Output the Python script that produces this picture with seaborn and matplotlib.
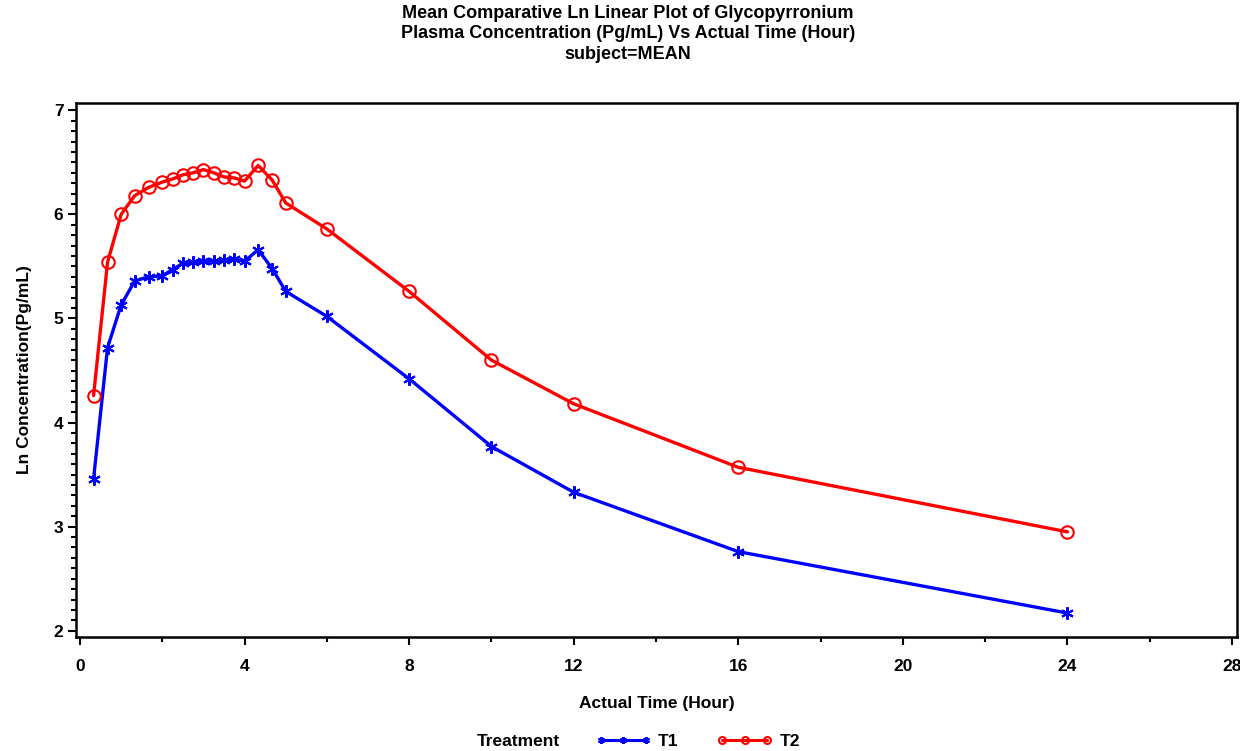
import matplotlib
matplotlib.use('Agg')
import matplotlib.pyplot as plt
import seaborn as sns
import pandas as pd
from matplotlib.lines import Line2D
from matplotlib.ticker import MultipleLocator

# data
time_h = [0.33, 0.67, 1, 1.33, 1.67, 2, 2.25, 2.5, 2.75, 3, 3.25, 3.5, 3.75, 4,
          4.33, 4.67, 5, 6, 8, 10, 12, 16, 24]
ln_t1 = [3.46, 4.72, 5.13, 5.36, 5.40, 5.41, 5.47, 5.53, 5.54, 5.55, 5.55, 5.56, 5.57, 5.55,
         5.66, 5.48, 5.26, 5.02, 4.42, 3.77, 3.33, 2.76, 2.17]
ln_t2 = [4.26, 5.54, 6.00, 6.18, 6.26, 6.31, 6.34, 6.38, 6.40, 6.43, 6.40, 6.36, 6.35, 6.32,
         6.47, 6.33, 6.11, 5.86, 5.26, 4.60, 4.18, 3.57, 2.95]
treatments = ['T1', 'T2']
colors = {'T1': '#0000ff', 'T2': '#ff0000'}
markers = {'T1': (6, 2, 0), 'T2': 'o'}

df = pd.concat([
    pd.DataFrame({'time': time_h, 'conc': ln_t1, 'Treatment': 'T1'}),
    pd.DataFrame({'time': time_h, 'conc': ln_t2, 'Treatment': 'T2'}),
])

sns.set_style('white')
plt.rcParams['font.family'] = ['Liberation Sans', 'DejaVu Sans']
plt.rcParams['text.color'] = 'black'
plt.rcParams['axes.labelcolor'] = 'black'
plt.rcParams['xtick.color'] = 'black'
plt.rcParams['ytick.color'] = 'black'

fig = plt.figure(figsize=(12.4, 7.51), dpi=100)
ax = fig.add_axes([76 / 1240, 1 - 637 / 751, (1237 - 76) / 1240, (637 - 103) / 751])

for tr in treatments:
    sub = df[df['Treatment'] == tr]
    sns.lineplot(data=sub, x='time', y='conc', ax=ax, color=colors[tr],
                 marker=markers[tr], markersize=9, mfc='none', mec=colors[tr],
                 mew=1.5, linewidth=2.4, legend=False)

ax.set_xlim(-0.097, 28.12)
ax.set_ylim(1.94, 7.07)
ax.xaxis.set_major_locator(MultipleLocator(4))
ax.xaxis.set_minor_locator(MultipleLocator(2))
ax.yaxis.set_major_locator(MultipleLocator(1))
ax.yaxis.set_minor_locator(MultipleLocator(0.1))
ax.tick_params(which='major', direction='out', length=6, width=1.5, labelsize=12.5,
               bottom=True, left=True, pad=10)
ax.tick_params(which='minor', direction='out', length=3.5, width=1.5, bottom=True, left=True)
for lab in ax.get_xticklabels() + ax.get_yticklabels():
    lab.set_fontweight('bold')
ax.tick_params(axis='y', pad=3)
for sp in ax.spines.values():
    sp.set_linewidth(1.8)
    sp.set_color('black')

ax.set_xlabel('Actual Time (Hour)', fontsize=12.5, fontweight='bold', labelpad=16)
ax.set_ylabel('Ln Concentration(Pg/mL)', fontsize=12.5, fontweight='bold', labelpad=16)

fig.text(628 / 1240, 1 - 34 / 751,
         'Mean Comparative Ln Linear Plot of Glycopyrronium\n'
         'Plasma Concentration (Pg/mL) Vs Actual Time (Hour)\n'
         'subject=MEAN',
         ha='center', va='center', fontsize=13, fontweight='bold', linespacing=1.25)

# legend at the bottom
handles = [Line2D([], [], color=colors[tr], marker=markers[tr], markersize=5,
                  mfc='none', mec=colors[tr], mew=1.5, linewidth=2.2) for tr in treatments]
fig.text(560 / 1240, 1 - 741 / 751, 'Treatment', ha='right', va='center',
         fontsize=12.5, fontweight='bold')
leg = fig.legend(handles, treatments, loc='center left', bbox_to_anchor=(580 / 1240, 1 - 741 / 751),
                 ncol=2, frameon=False, numpoints=3, handlelength=3.2, handletextpad=0.4,
                 columnspacing=2.2, prop={'size': 12.5, 'weight': 'bold'})

fig.savefig('out.png', dpi=100)
